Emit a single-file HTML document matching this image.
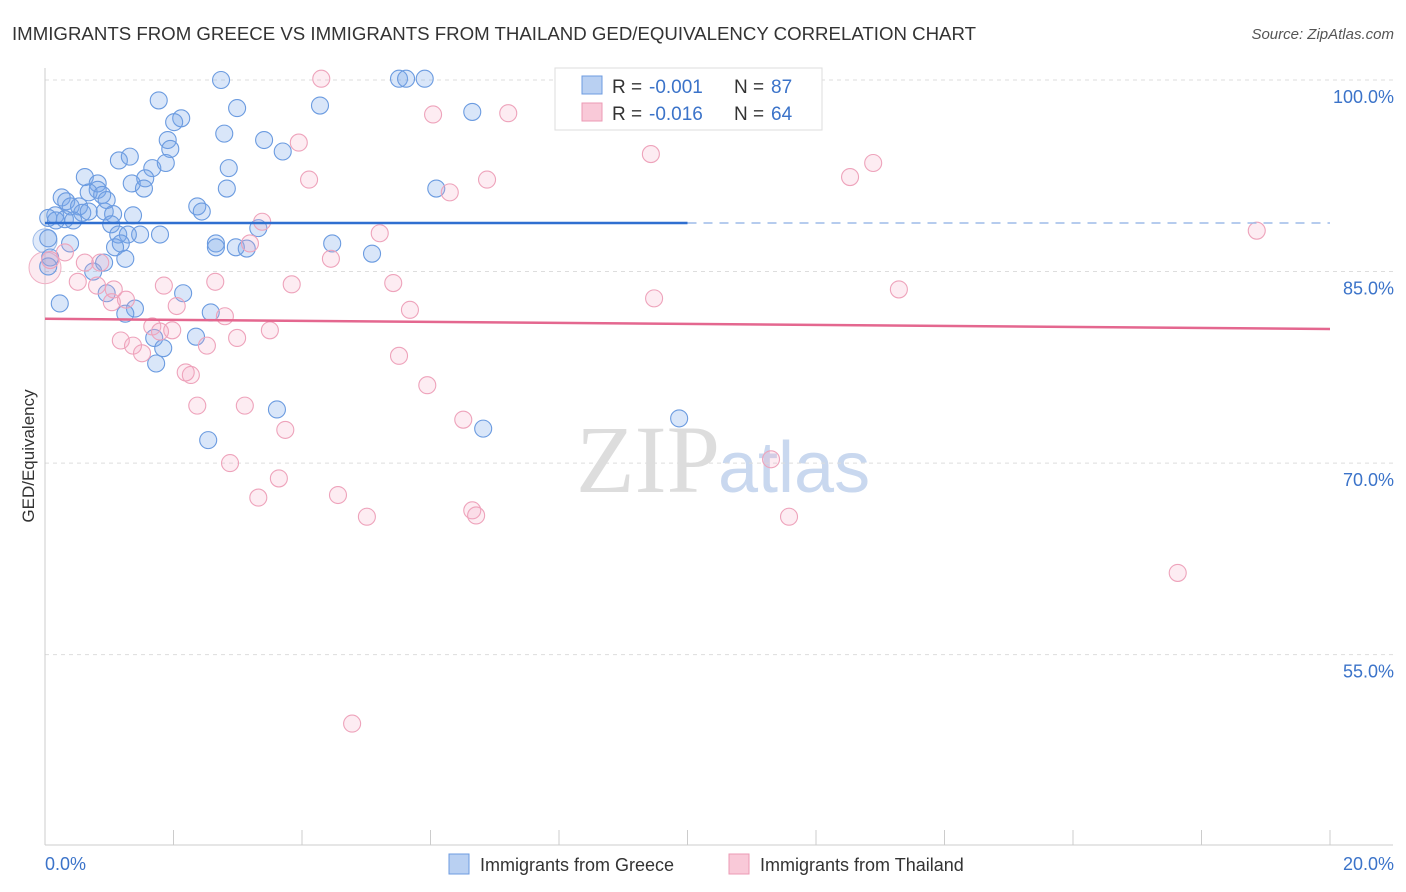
<!DOCTYPE html>
<html><head><meta charset="utf-8"><style>
body{margin:0;background:#fff;font-family:"Liberation Sans",sans-serif;}
svg{display:block}
</style></head><body>
<svg width="1406" height="892" xmlns="http://www.w3.org/2000/svg" id="chart">
<text x="12" y="40" font-size="18" fill="#333" textLength="964" lengthAdjust="spacingAndGlyphs">IMMIGRANTS FROM GREECE VS IMMIGRANTS FROM THAILAND GED/EQUIVALENCY CORRELATION CHART</text>
<text x="1394" y="39" font-size="15" fill="#555" font-style="italic" text-anchor="end">Source: ZipAtlas.com</text>
<text x="720" y="492" font-size="96" fill="#ddd" text-anchor="end" font-family="Liberation Serif,serif">ZIP</text>
<text x="718" y="492" font-size="72" fill="#c9d8ef">atlas</text>
<g id="grid"></g><g id="axes"></g><g id="pts"></g><g id="trend"></g>
<text transform="translate(34,456) rotate(-90)" font-size="17" fill="#333" text-anchor="middle">GED/Equivalency</text>
<text x="45" y="870" font-size="18" fill="#3b73c9">0.0%</text>
<text x="1394" y="870" font-size="18" fill="#3b73c9" text-anchor="end">20.0%</text>
<g>
<rect x="555" y="68" width="267" height="62" fill="#fff" stroke="#ddd"/>
<rect x="582" y="76" width="20" height="18" fill="#b9d0f2" stroke="#6d9be0"/>
<rect x="582" y="103" width="20" height="18" fill="#f9c9d8" stroke="#ec9ab4"/>
<text x="612" y="93" font-size="19" fill="#333">R =</text>
<text x="649" y="93" font-size="19" fill="#3b73c9">-0.001</text>
<text x="734" y="93" font-size="19" fill="#333">N =</text>
<text x="771" y="93" font-size="19" fill="#3b73c9">87</text>
<text x="612" y="120" font-size="19" fill="#333">R =</text>
<text x="649" y="120" font-size="19" fill="#3b73c9">-0.016</text>
<text x="734" y="120" font-size="19" fill="#333">N =</text>
<text x="771" y="120" font-size="19" fill="#3b73c9">64</text>
</g>
<g>
<rect x="449" y="854" width="20" height="20" fill="#b9d0f2" stroke="#6d9be0"/>
<text x="480" y="871" font-size="18" fill="#333">Immigrants from Greece</text>
<rect x="729" y="854" width="20" height="20" fill="#f9c9d8" stroke="#ec9ab4"/>
<text x="760" y="871" font-size="18" fill="#333">Immigrants from Thailand</text>
</g>
</svg>
<script>
const yTicks=[100,85,70,55];
const yTickLabels=["100.0%","85.0%","70.0%","55.0%"];
const xTicks=[0,2,4,6,8,10,12,14,16,18,20];
const greeceX=[2.74,5.51,5.62,5.91,1.77,2.99,4.28,6.65,2.12,2.01,2.79,1.91,3.41,1.95,3.70,1.15,1.32,1.67,1.88,2.86,0.62,0.82,1.35,1.56,1.54,0.82,0.68,0.89,2.83,6.09,0.26,0.33,2.37,2.44,0.40,0.53,0.16,0.05,0.31,0.58,0.68,0.44,0.93,1.06,1.37,1.03,1.14,1.48,1.29,1.79,3.32,1.18,1.09,0.39,2.66,2.66,2.97,3.14,4.47,5.09,0.05,0.08,1.25,0.92,0.05,0.75,2.15,0.96,0.23,1.40,2.58,1.25,2.35,1.70,1.84,1.73,3.61,2.54,6.82,9.87,0.17,0.96];
const greeceY=[100,100.1,100.1,100.1,98.4,97.8,98.0,97.5,97.0,96.7,95.8,95.3,95.3,94.6,94.4,93.7,94.0,93.1,93.5,93.1,92.4,91.9,91.9,92.3,91.5,91.4,91.2,91.0,91.5,91.5,90.8,90.5,90.1,89.7,90.1,90.1,89.4,89.2,89.1,89.6,89.7,89.0,89.7,89.5,89.4,88.7,87.9,87.9,87.9,87.9,88.4,87.2,86.9,87.2,87.2,86.9,86.9,86.8,87.2,86.4,87.6,86.1,86.0,85.7,85.4,85.0,83.3,83.3,82.5,82.1,81.8,81.7,79.9,79.8,79.0,77.8,74.2,71.8,72.7,73.5,89.0,90.6];
const thaiX=[4.30,6.04,7.21,3.95,9.43,12.89,12.53,4.11,6.88,6.30,18.86,3.38,5.21,3.19,4.45,0.08,0.31,0.62,0.86,0.51,0.81,1.07,1.26,1.85,2.65,3.84,5.42,9.48,13.29,5.68,2.05,2.80,1.04,1.67,1.79,1.98,3.50,2.99,1.18,1.37,1.51,2.52,5.51,2.27,2.19,5.95,2.37,3.11,3.74,6.51,2.88,11.30,3.64,3.32,4.56,5.01,6.65,6.71,11.58,17.63,4.78];
const thaiY=[100.1,97.3,97.4,95.1,94.2,93.5,92.4,92.2,92.2,91.2,88.2,88.9,88.0,87.2,86.0,85.9,86.5,85.7,85.7,84.2,83.9,83.6,82.8,83.9,84.2,84.0,84.1,82.9,83.6,82.0,82.3,81.5,82.6,80.7,80.3,80.4,80.4,79.8,79.6,79.2,78.6,79.2,78.4,76.9,77.1,76.1,74.5,74.5,72.6,73.4,70.0,70.3,68.8,67.3,67.5,65.8,66.3,65.9,65.8,61.4,49.6];
const greeceTrend=[88.8,88.8];
const thaiTrend=[81.3,80.5];
const NS="http://www.w3.org/2000/svg";
const xs=v=>45+v*64.25;
const ys=v=>80+(100-v)*12.77;
function mk(tag,attrs,parent){const e=document.createElementNS(NS,tag);for(const k in attrs)e.setAttribute(k,attrs[k]);parent.appendChild(e);return e;}
const grid=document.getElementById('grid'),axes=document.getElementById('axes'),pts=document.getElementById('pts'),trend=document.getElementById('trend');
yTicks.forEach((t,i)=>{
 const l=mk('line',{x1:45,x2:1393,y1:ys(t),y2:ys(t),stroke:'#ddd','stroke-dasharray':'4,4'},grid);
 
 
 const tx=mk('text',{x:1394,y:ys(t)+23,'font-size':18,fill:'#3b73c9','text-anchor':'end'},grid);
 tx.textContent=yTickLabels[i];
 
 
});
const ax=mk('line',{x1:45,x2:45,y1:68,y2:845,stroke:'#ccc'},axes);


const bx=mk('line',{x1:45,x2:1393,y1:845,y2:845,stroke:'#ccc'},axes);


xTicks.forEach(t=>{
 const l=mk('line',{x1:xs(t),x2:xs(t),y1:830,y2:845,stroke:'#ccc'},axes);
 
 
});
function big(x,y,r,f,s){const c=mk('circle',{cx:xs(x),cy:ys(y),r:r,fill:f,stroke:s},pts);
 
 }
big(0,85.3,16,'rgba(240,150,180,0.2)','#f0b0c4');
big(0,87.4,12,'rgba(100,150,230,0.2)','#9dbbe8');
greeceX.forEach((x,i)=>{
 const c=mk('circle',{cx:xs(x),cy:ys(greeceY[i]),r:8.5,fill:'rgba(120,165,235,0.28)',stroke:'#6b9be0','stroke-width':1.1},pts);
 
 
});
thaiX.forEach((x,i)=>{
 const c=mk('circle',{cx:xs(x),cy:ys(thaiY[i]),r:8.5,fill:'rgba(245,170,198,0.22)',stroke:'#eea3bb','stroke-width':1.1},pts);
 
 
});
const g1=mk('line',{x1:xs(0),x2:xs(10),y1:ys(greeceTrend[0]),y2:ys(greeceTrend[0]+(greeceTrend[1]-greeceTrend[0])/2),stroke:'#2f6fd0','stroke-width':2.5},trend);


const g2=mk('line',{x1:xs(10),x2:xs(20),y1:ys(greeceTrend[0]+(greeceTrend[1]-greeceTrend[0])/2),y2:ys(greeceTrend[1]),stroke:'#9dbbe8','stroke-width':1.5,'stroke-dasharray':'9,7'},trend);


const t1=mk('line',{x1:xs(0),x2:xs(20),y1:ys(thaiTrend[0]),y2:ys(thaiTrend[1]),stroke:'#e4678f','stroke-width':2.5},trend);


</script>
</body></html>
